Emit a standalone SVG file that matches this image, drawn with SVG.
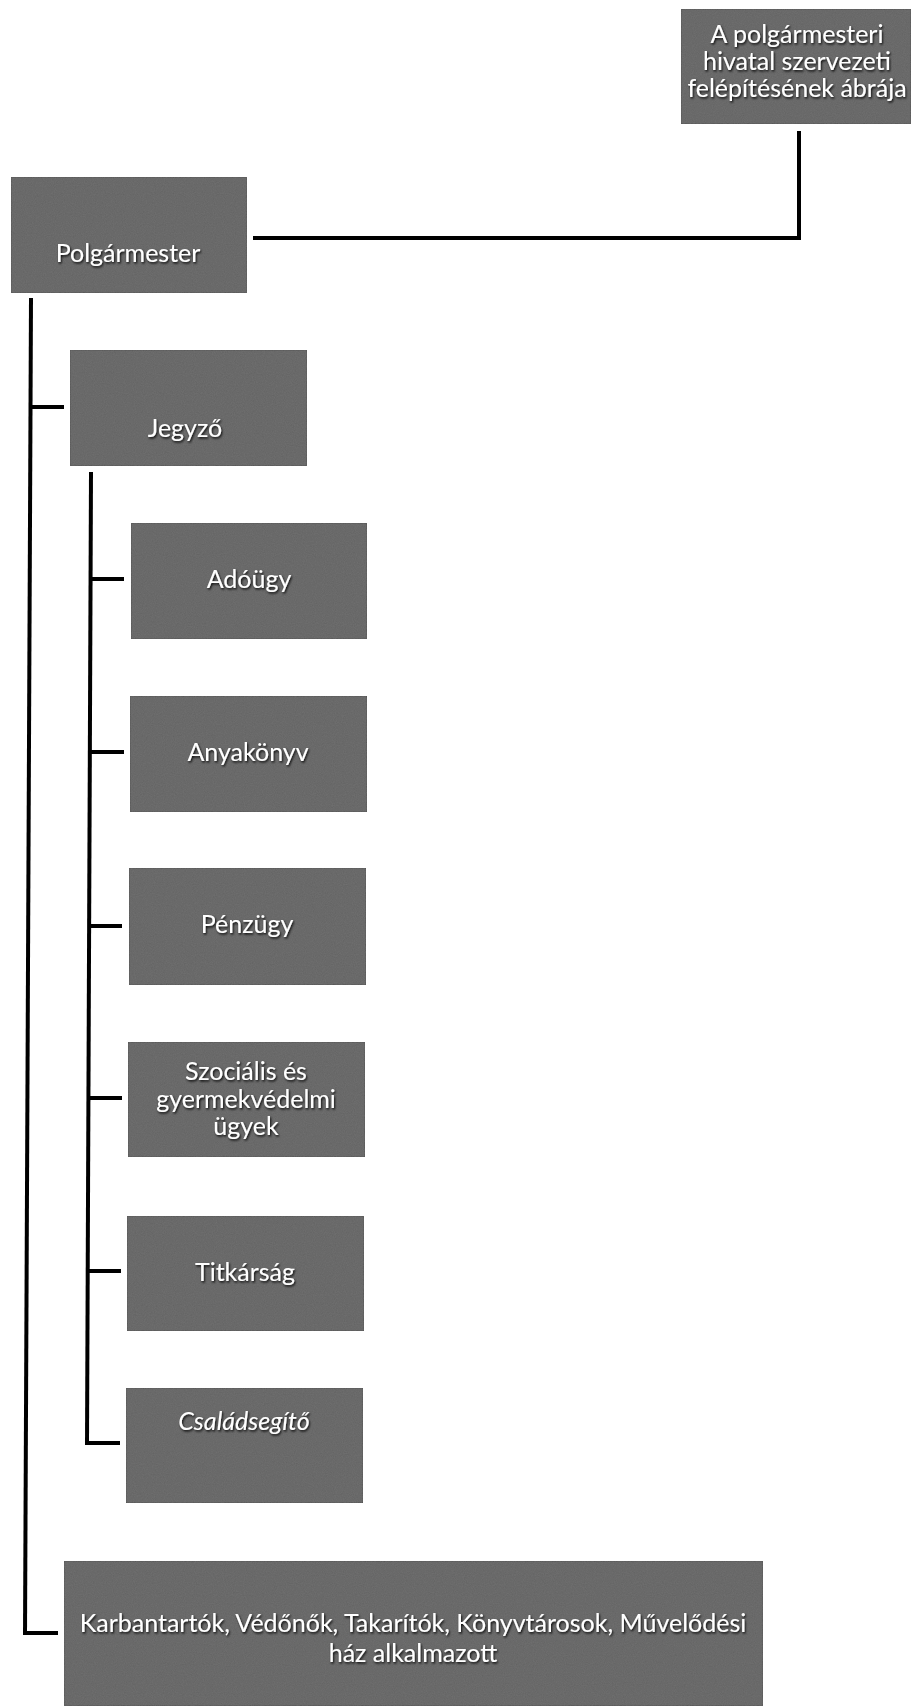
<svg xmlns="http://www.w3.org/2000/svg" width="911" height="1706" viewBox="0 0 911 1706">
<defs>
<filter id="grain" x="0" y="0" width="100%" height="100%">
<feTurbulence type="fractalNoise" baseFrequency="0.9" numOctaves="2" seed="3" result="n"/>
<feColorMatrix in="n" type="matrix" values="0 0 0 0 0.2  0 0 0 0 0.2  0 0 0 0 0.2  0 0 0 0.5 0" result="g"/>
<feComposite in="g" in2="SourceGraphic" operator="in" result="gi"/>
<feMerge><feMergeNode in="SourceGraphic"/><feMergeNode in="gi"/></feMerge>
</filter>
<filter id="shadow" x="-10%" y="-30%" width="120%" height="160%">
<feDropShadow dx="1" dy="1.5" stdDeviation="0.8" flood-color="#000" flood-opacity="0.9"/>
</filter>
</defs>
<style>
.box{fill:#636363;stroke:#4a4a4a;stroke-width:1;filter:url(#grain)}
.t{font-family:Lato,"Liberation Sans",sans-serif;font-size:25px;fill:#fff;text-anchor:middle;filter:url(#shadow)}
.it{font-style:italic}
.c{fill:none;stroke:#000;stroke-width:4;stroke-linecap:butt;stroke-linejoin:miter}
</style>
<g id="connectors">
<polyline class="c" points="253,238 799,238 799,131"/>
<line class="c" x1="31" y1="298" x2="25" y2="1635"/>
<line class="c" x1="31" y1="407" x2="64" y2="407"/>
<polyline class="c" points="25,1633 58,1633"/>
<line class="c" x1="91" y1="472" x2="87" y2="1445"/>
<line class="c" x1="91" y1="579" x2="124" y2="579"/>
<line class="c" x1="90" y1="752" x2="124" y2="752"/>
<line class="c" x1="89" y1="926" x2="122" y2="926"/>
<line class="c" x1="88" y1="1098" x2="122" y2="1098"/>
<line class="c" x1="88" y1="1271" x2="121" y2="1271"/>
<polyline class="c" points="87,1443 120,1443"/>
</g>
<g id="title">
<rect class="box" x="681" y="9" width="230" height="115"/>
<text class="t" x="797" y="43">A polgármesteri</text>
<text class="t" x="797" y="70">hivatal szervezeti</text>
<text class="t" x="797" y="97">felépítésének ábrája</text>
</g>
<g id="polgarmester">
<rect class="box" x="11" y="177" width="236" height="116"/>
<text class="t" x="128" y="262">Polgármester</text>
</g>
<g id="jegyzo">
<rect class="box" x="70" y="350" width="237" height="116"/>
<text class="t" x="185" y="437">Jegyző</text>
</g>
<g id="adougy">
<rect class="box" x="131" y="523" width="236" height="116"/>
<text class="t" x="249" y="588">Adóügy</text>
</g>
<g id="anyakonyv">
<rect class="box" x="130" y="696" width="237" height="116"/>
<text class="t" x="248" y="761">Anyakönyv</text>
</g>
<g id="penzugy">
<rect class="box" x="129" y="868" width="237" height="117"/>
<text class="t" x="247" y="933">Pénzügy</text>
</g>
<g id="szocialis">
<rect class="box" x="128" y="1042" width="237" height="115"/>
<text class="t" x="246" y="1080">Szociális és</text>
<text class="t" x="246" y="1108">gyermekvédelmi</text>
<text class="t" x="246" y="1135">ügyek</text>
</g>
<g id="titkarsag">
<rect class="box" x="127" y="1216" width="237" height="115"/>
<text class="t" x="245" y="1281">Titkárság</text>
</g>
<g id="csaladsegito">
<rect class="box" x="126" y="1388" width="237" height="115"/>
<text class="t it" x="244" y="1430">Családsegítő</text>
</g>
<g id="alkalmazottak">
<rect class="box" x="64" y="1561" width="699" height="145"/>
<text class="t" x="413" y="1632">Karbantartók, Védőnők, Takarítók, Könyvtárosok, Művelődési</text>
<text class="t" x="413" y="1662">ház alkalmazott</text>
</g>
</svg>
